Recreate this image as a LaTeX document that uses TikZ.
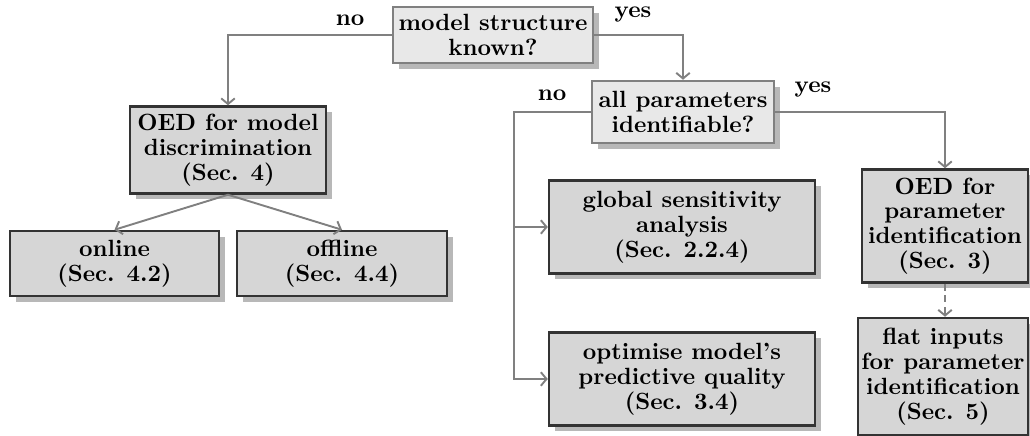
\documentclass[tikz,border=0pt]{standalone}
\usetikzlibrary{arrows.meta,shadows}
\definecolor{cgray}{gray}{0.5}
\definecolor{actfill}{gray}{0.84}
\definecolor{decfill}{gray}{0.91}
\definecolor{shad}{gray}{0.72}
\begin{document}
\begin{tikzpicture}[x=0.443pt,y=-0.443pt,
  wh/.style 2 args={minimum width=#1*0.443pt, minimum height=#2*0.443pt},
  base/.style={align=center, font=\fontsize{10.4}{11}\selectfont\bfseries, inner sep=0pt,
    line width=1.1pt, drop shadow={shadow xshift=2.6pt, shadow yshift=-2.6pt, fill=shad, opacity=1}},
  act/.style={base, draw=black!80, fill=actfill},
  dec/.style={base, draw=cgray, fill=decfill},
  cn/.style={draw=cgray, line width=0.85pt, -{Straight Barb[length=2.5pt,width=6pt]}},
  lbl/.style={font=\fontsize{10.4}{12}\selectfont\bfseries, inner sep=0pt}]
\useasboundingbox (0,0) rectangle (1030,436);

\node[dec, wh={200}{56}] (ms) at (493,35) {model structure\\known?};
\node[dec, wh={182}{62}] (ap) at (683,112) {all parameters\\identifiable?};
\node[act, wh={196}{87}] (oedm) at (228,150) {OED for model\\discrimination\\(Sec. 4)};
\node[act, wh={209}{65}] (on) at (114.5,263.5) {online\\(Sec. 4.2)};
\node[act, wh={210}{65}] (off) at (342,263.5) {offline\\(Sec. 4.4)};
\node[act, wh={266}{93}] (gsa) at (682,227) {global sensitivity\\analysis\\(Sec. 2.2.4)};
\node[act, wh={266}{93}] (opt) at (682,379) {optimise model's\\predictive quality\\(Sec. 3.4)};
\node[act, wh={166}{113}] (oedp) at (945,226) {OED for\\parameter\\identification\\(Sec. 3)};
\node[act, wh={170}{117}] (flat) at (943,376.5) {flat inputs\\for parameter\\identification\\(Sec. 5)};

\coordinate (apL) at (514,0);

\draw[cn] (ms.west) -| (oedm.north);
\draw[cn] (ms.east) -| (ap.north);
\draw[cn] (oedm.south) -- (on.north);
\draw[cn] (oedm.south) -- (off.north);
\draw[cn] (ap.west) -| (apL |- opt.west) -- (opt.west);
\draw[cn] (apL |- gsa.west) -- (gsa.west);
\draw[cn] (ap.east) -| (oedp.north);
\draw[cn, dash pattern=on 3pt off 2.2pt] (oedp.south) -- (oedp.south |- flat.north);

\node[lbl] (no1) at (350,20) {no};
\node[lbl] (yes1) at (633,15) {yes};
\node[lbl] (no2) at (552,95) {no};
\node[lbl] (yes2) at (813,90) {yes};
\end{tikzpicture}
\end{document}
